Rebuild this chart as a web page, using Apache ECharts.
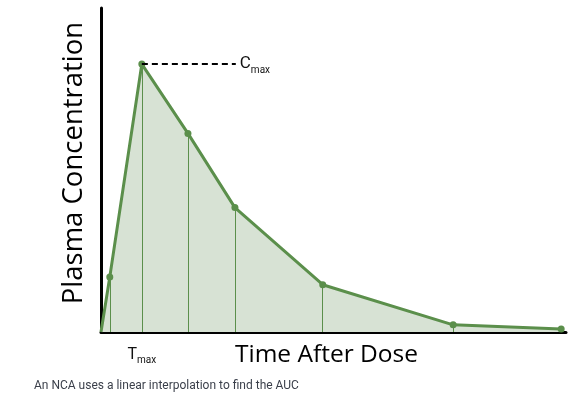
<!DOCTYPE html>
<html>
<head>
<meta charset="utf-8">
<script src="https://cdn.jsdelivr.net/npm/echarts@6/dist/echarts.min.js"></script>
<style>
html,body{margin:0;padding:0;background:#fff;}
#chart{width:569px;height:395px;}
</style>
</head>
<body>
<div id="chart"></div>
<script>
// Data (time in arbitrary units, concentration in arbitrary units)
var times = [0, 0.2, 0.93, 1.98, 3.05, 5.05, 8.02, 10.48];
var concentrations = [0, 17, 82.7, 61.3, 38.4, 14.6, 2.2, 0.9];
var tmax = 0.93;
var cmax = 82.7;
var cmaxLineEnd = 3.07;
var xMax = 10.59;
var yMax = 100;
var xAxisTitle = 'Time After Dose';
var yAxisTitle = 'Plasma Concentration';
var caption = 'An NCA uses a linear interpolation to find the AUC';

var green = '#5b8f4b';
var fill = '#d7e2d4';

var seriesData = times.map(function (t, i) {
  var item = { value: [t, concentrations[i]] };
  if (i === 0) item.symbol = 'none';
  return item;
});
var dropLines = [];
for (var i = 1; i < times.length; i++) {
  dropLines.push([{ coord: [times[i], 0] }, { coord: [times[i], concentrations[i]] }]);
}

var chart = echarts.init(document.getElementById('chart'));
chart.setOption({
  animation: false,
  grid: { left: 101, right: 3, top: 8, bottom: 63 },
  xAxis: {
    type: 'value', min: 0, max: xMax,
    name: xAxisTitle, nameLocation: 'middle', nameGap: 11,
    nameMoveOverlap: false,
    nameTextStyle: { fontFamily: 'Open Sans', fontSize: 24.5, color: '#000', padding: [0, 14, 0, 0] },
    axisLine: { lineStyle: { color: '#000', width: 3 } },
    axisTick: { show: false },
    splitLine: { show: false },
    axisLabel: {
      customValues: [tmax],
      margin: 13,
      formatter: function () { return '{t|T}{m|max}'; },
      rich: {
        t: { fontFamily: 'Roboto', fontSize: 16, color: '#111', padding: [0, 0, 0, 0] },
        m: { fontFamily: 'Roboto', fontSize: 10, color: '#111', padding: [10, 0, 0, 0] }
      }
    }
  },
  yAxis: {
    type: 'value', min: 0, max: yMax,
    name: yAxisTitle, nameLocation: 'middle', nameGap: 13,
    nameTextStyle: { fontFamily: 'Open Sans', fontSize: 27.5, color: '#000', padding: [0, 0, 0, 14] },
    axisLine: { show: true, lineStyle: { color: '#000', width: 3 } },
    axisTick: { show: false },
    axisLabel: { show: false },
    splitLine: { show: false }
  },
  series: [{
    type: 'line',
    data: seriesData,
    symbol: 'circle', symbolSize: 7,
    itemStyle: { color: green },
    lineStyle: { color: green, width: 3 },
    areaStyle: { color: fill, opacity: 1 },
    z: 3,
    markLine: {
      silent: true, symbol: 'none', animation: false,
      label: { show: false },
      lineStyle: { color: green, width: 1, type: 'solid' },
      data: dropLines
    }
  }, {
    type: 'line',
    data: [],
    markLine: {
      silent: true, symbol: 'none', animation: false,
      lineStyle: { color: '#000', width: 2, type: [6, 4] },
      label: {
        show: true, position: 'end', distance: 4,
        formatter: function () { return '{c|C}{m|max}'; },
        rich: {
          c: { fontFamily: 'Roboto', fontSize: 17, color: '#111' },
          m: { fontFamily: 'Roboto', fontSize: 10, color: '#111', padding: [12, 0, 0, 0] }
        }
      },
      data: [[{ coord: [tmax, cmax] }, { coord: [cmaxLineEnd, cmax] }]]
    },
    z: 2
  }],
  graphic: [{
    type: 'text', left: 34, top: 380,
    style: { text: caption, fontFamily: 'Roboto', fontSize: 12, fill: '#3a3f4a' }
  }]
});
</script>
</body>
</html>
